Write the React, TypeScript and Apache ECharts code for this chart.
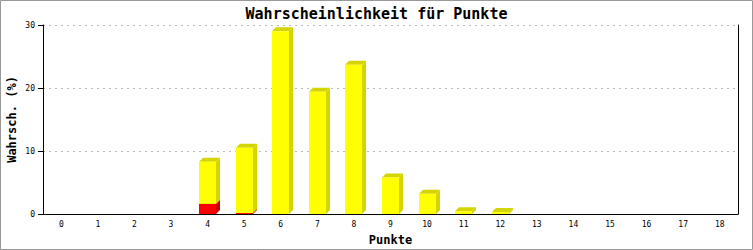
import React, { useEffect, useRef } from "react";
import * as echarts from "echarts";

const categories = ["0","1","2","3","4","5","6","7","8","9","10","11","12","13","14","15","16","17","18"];
const redValues = [0, 0, 0, 0, 1.6, 0.15, 0, 0, 0, 0, 0, 0, 0, 0, 0, 0, 0, 0, 0];
const yellowValues = [0, 0, 0, 0, 6.7, 10.35, 29.0, 19.4, 23.7, 5.8, 3.2, 0.45, 0.3, 0, 0, 0, 0, 0, 0];
const yTicks = [0, 10, 20, 30];

const FONT = "'DejaVu Sans Mono', 'Liberation Mono', monospace";

function makeRender(front: string, side: string, top: string) {
  return (params: any, api: any) => {
    const idx = api.value(0);
    const base = api.value(1);
    const topV = api.value(2);
    const pBase = api.coord([idx, base]);
    const pTop = api.coord([idx, topV]);
    const half = 8.5;
    const d = 4;
    const x0 = Math.round(pBase[0] - half);
    const x1 = Math.round(pBase[0] + half);
    const yb = pBase[1];
    const yt = pTop[1];
    return {
      type: "group",
      children: [
        {
          type: "polygon",
          shape: { points: [[x1, yt], [x1 + d, yt - d], [x1 + d, yb - d], [x1, yb]] },
          style: { fill: side },
        },
        {
          type: "polygon",
          shape: { points: [[x0, yt], [x0 + d, yt - d], [x1 + d, yt - d], [x1, yt]] },
          style: { fill: top },
        },
        {
          type: "rect",
          shape: { x: x0, y: yt, width: x1 - x0, height: Math.max(yb - yt, 1) },
          style: { fill: front },
        },
      ],
    };
  };
}

export default function App() {
  const ref = useRef<HTMLDivElement>(null);
  useEffect(() => {
    document.body.style.margin = "0";
    const chart = echarts.init(ref.current!, null, { renderer: "svg" });
    const redData: any[] = [];
    const yellowData: any[] = [];
    categories.forEach((_, i) => {
      const r = redValues[i];
      const y = yellowValues[i];
      if (r > 0) redData.push([i, 0, r]);
      if (y > 0) yellowData.push([i, r, r + y]);
    });
    chart.setOption({
      animation: false,
      backgroundColor: "#ffffff",
      title: {
        text: "Wahrscheinlichkeit für Punkte",
        left: "center",
        top: 1,
        textStyle: { fontFamily: FONT, fontSize: 15, fontWeight: "bold", color: "#000" },
      },
      grid: { left: 43, right: 15, top: 25, bottom: 36, containLabel: false, outerBoundsMode: "none" },
      xAxis: {
        type: "category",
        data: categories,
        name: "Punkte",
        nameLocation: "middle",
        nameGap: 20,
        nameTextStyle: { fontFamily: FONT, fontSize: 12, fontWeight: "bold", color: "#000" },
        axisLine: { lineStyle: { color: "#000", width: 1 } },
        axisTick: { show: false },
        axisLabel: { fontFamily: FONT, fontSize: 8, color: "#000", margin: 6 },
      },
      yAxis: [
        {
          type: "value",
          min: 0,
          max: 30,
          interval: 10,
          name: "Wahrsch. (%)",
          nameLocation: "middle",
          nameGap: 25,
          nameMoveOverlap: false,
          nameTextStyle: { fontFamily: FONT, fontSize: 12, fontWeight: "bold", color: "#000" },
          axisLine: { show: true, lineStyle: { color: "#000", width: 1 } },
          axisTick: { show: true, length: 5, lineStyle: { color: "#000" } },
          axisLabel: {
            fontFamily: FONT,
            fontSize: 8,
            color: "#000",
            margin: 8,
            formatter: (v: number) => (yTicks.includes(v) ? String(v) : ""),
          },
          splitLine: { show: true, lineStyle: { color: "#bbbbbb", type: [2, 4] } },
        },
        {
          type: "value",
          min: 0,
          max: 30,
          interval: 10,
          position: "right",
          axisLine: { show: true, lineStyle: { color: "#000", width: 1 } },
          axisTick: { show: false },
          axisLabel: { show: false },
          splitLine: { show: false },
        },
      ],
      series: [
        {
          type: "custom",
          renderItem: makeRender("#ff0000", "#cc0000", "#cc0000"),
          data: redData,
          encode: { x: 0, y: [1, 2] },
        },
        {
          type: "custom",
          renderItem: makeRender("#ffff00", "#d4d400", "#d4d400"),
          data: yellowData,
          encode: { x: 0, y: [1, 2] },
        },
      ],
      graphic: [
        {
          type: "rect",
          shape: { x: 0.5, y: 0.5, width: 752, height: 249 },
          style: { fill: "none", stroke: "#999999", lineWidth: 1 },
          z: 100,
        },
      ],
    });
    return () => chart.dispose();
  }, []);
  return <div ref={ref} style={{ width: 753, height: 250 }} />;
}
